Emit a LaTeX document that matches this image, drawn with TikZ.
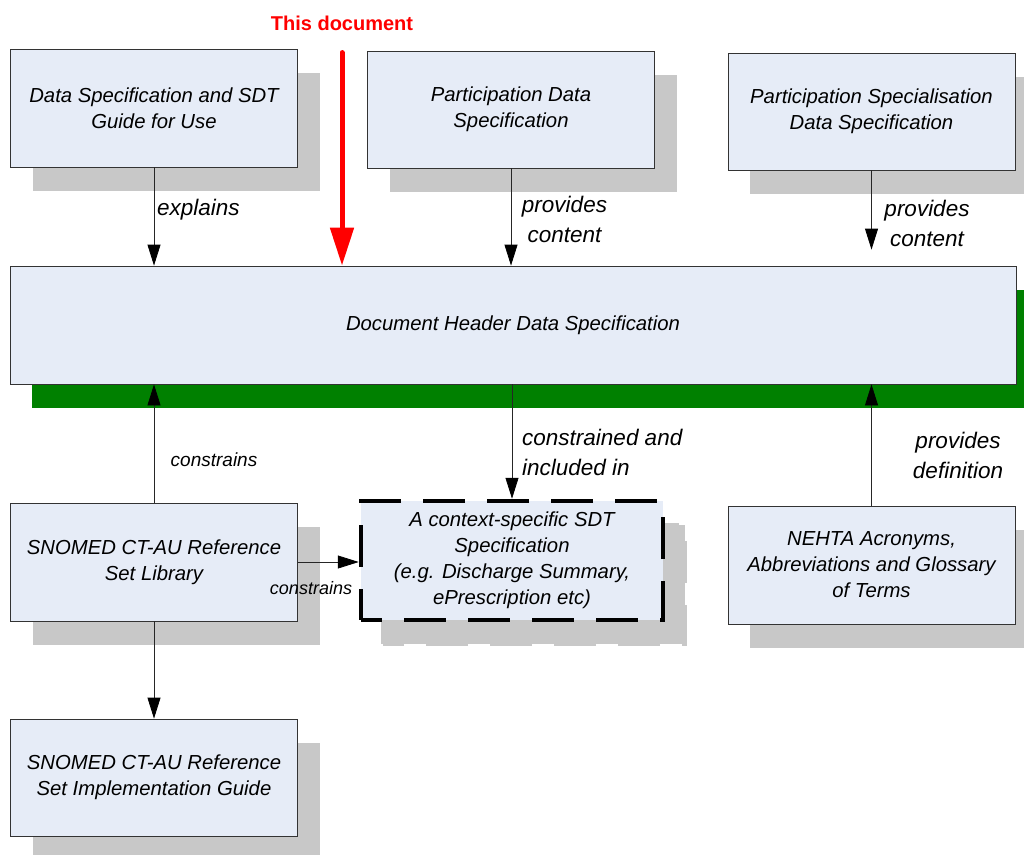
\documentclass[tikz,border=0pt]{standalone}
\usepackage{fontspec}
\setmainfont{Liberation Sans}
\usepackage{xcolor}
\usetikzlibrary{arrows.meta}
\usetikzlibrary{positioning}
\usetikzlibrary{shadows}

\definecolor{specfill}{HTML}{E6ECF7}
\definecolor{specshadow}{HTML}{C8C8C8}
\definecolor{headgreen}{HTML}{008000}

\tikzset{
	specbase/.style={draw=black!80, line width=0.8pt, fill=specfill, align=center, inner sep=0pt,
		minimum width=287pt, minimum height=118pt, font=\fontsize{20.3}{26}\selectfont\itshape},
	spec/.style={specbase, drop shadow={shadow xshift=22pt, shadow yshift=-24pt, opacity=1, fill=specshadow}},
	header/.style={specbase, minimum width=1006pt, drop shadow={shadow xshift=22pt, shadow yshift=-24pt, opacity=1, fill=headgreen}},
	context/.style={specbase, minimum width=302pt, minimum height=119pt, draw=black, line width=4.5pt,
		dash pattern=on 42pt off 22pt, dash phase=21pt,
		drop shadow={shadow xshift=22pt, shadow yshift=-24pt, opacity=1, fill=specshadow, draw=specshadow, line width=4.5pt, dash pattern=on 42pt off 22pt, dash phase=21pt}},
	arr/.style={draw=black!85, line width=0.8pt, -{Triangle[length=21pt, width=13pt, color=black]}},
	docarrow/.style={draw=red, line width=5pt, line cap=round, -{Triangle[length=38pt, width=23pt]}},
	lbl/.style={font=\fontsize{22.5}{30}\selectfont\itshape, align=center, inner sep=0pt},
	smalllbl/.style={font=\fontsize{18}{22}\selectfont\itshape, inner sep=0pt},
	doclbl/.style={font=\fontsize{20}{24}\selectfont\bfseries, text=red, inner sep=0pt}
}

\begin{document}
\begin{tikzpicture}[x=1pt, y=-1pt]
	\useasboundingbox (0,0) rectangle (1024,854);
	% top row
	\node[spec] (guide) at (154,108) {Data Specification and SDT\\Guide for Use};
	\node[spec, minimum height=117pt] (participation) at (511,109.5) {Participation Data\\Specification};
	\node[spec, minimum height=117pt] (specialisation) at (871.5,111.5) {Participation Specialisation\\Data Specification};
	% this document
	\node[header] (docHeader) at (513,325) {Document Header Data Specification};
	\node[doclbl] (thisDoc) at (342,23) {This document};
	\coordinate[below=22pt of thisDoc] (thisDocStart);
	% bottom rows
	\node[spec] (refsetLibrary) at (154,562) {SNOMED CT-AU Reference\\Set Library};
	\node[context] (contextSpec) at (512,560.5) {A context-specific SDT\\Specification\\(e.g. Discharge Summary,\\ePrescription etc)};
	\node[spec] (glossary) at (871.5,565) {NEHTA Acronyms,\\Abbreviations and Glossary\\of Terms};
	\node[spec, minimum height=117pt] (refsetGuide) at (154,777.5) {SNOMED CT-AU Reference\\Set Implementation Guide};

	\draw[docarrow] (thisDocStart) -- (thisDocStart |- docHeader.north);
	\draw[arr] (guide.south) -- (guide.south |- docHeader.north);
	\draw[arr] (participation.south) -- (participation.south |- docHeader.north);
	\draw[arr, shorten >=16pt] (specialisation.south) -- (specialisation.south |- docHeader.north);
	\draw[arr] (refsetLibrary.north) -- (refsetLibrary.north |- docHeader.south);
	\draw[arr] (docHeader.south -| contextSpec.north) -- (contextSpec.north);
	\draw[arr] (glossary.north) -- (glossary.north |- docHeader.south);
	\draw[arr] (refsetLibrary.east) -- (refsetLibrary.east -| contextSpec.west);
	\draw[arr] (refsetLibrary.south) -- (refsetGuide.north);

	\node[lbl, anchor=west] (explainsLbl) at (157,210) {explains};
	\node[lbl] (contentLbl) at (564.5,219) {provides\\content};
	\node[lbl] (specContentLbl) at (927,223) {provides\\content};
	\node[smalllbl, font=\fontsize{19}{23}\selectfont\itshape] (constrainsLbl) at (214,460) {constrains};
	\node[lbl, align=left, anchor=west] (includedLbl) at (522,452) {constrained and\\included in};
	\node[lbl] (definitionLbl) at (958,455) {provides\\definition};
	\node[smalllbl] (constrainsSideLbl) at (311,588) {constrains};
\end{tikzpicture}
\end{document}
